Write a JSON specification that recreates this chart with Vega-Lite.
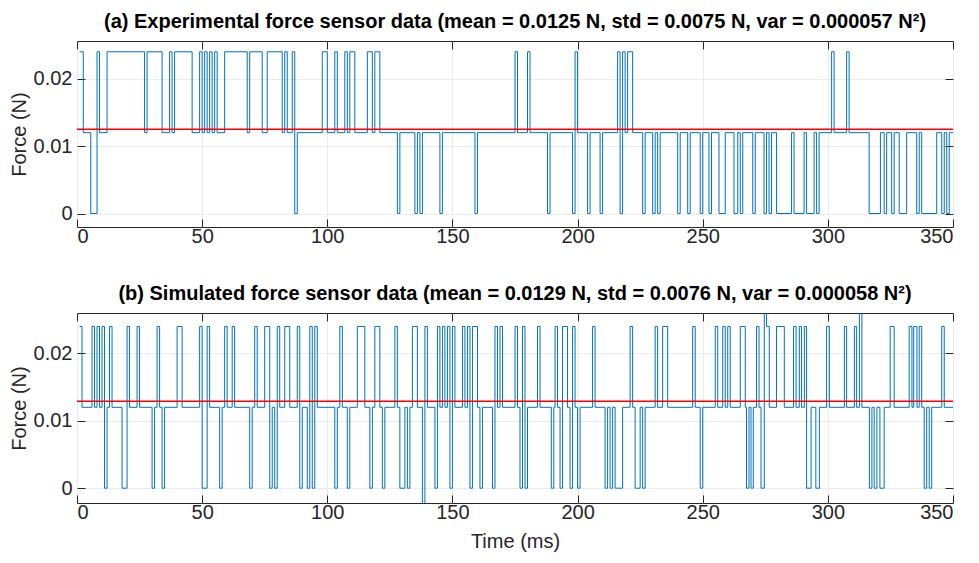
{
"$schema": "https://vega.github.io/schema/vega-lite/v6.json",
"background": "white",
"padding": {"left": 8, "top": 11, "right": 5, "bottom": 5},
"spacing": 36,
"config": {
  "font": "Liberation Sans",
  "view": {"stroke": "#262626", "strokeWidth": 1},
  "axis": {"labelFont": "Liberation Sans", "labelFontSize": 20, "labelColor": "#262626", "titleFont": "Liberation Sans", "titleFontSize": 20, "titleFontWeight": "normal", "titleColor": "#262626", "gridColor": "#ebebeb", "domain": false, "tickColor": "#262626", "tickSize": -8},
  "title": {"font": "Liberation Sans", "fontSize": 20, "fontWeight": "bold", "color": "#000000", "offset": 9}
},
"datasets": {
"a": [{"t":1,"f":0.024},{"t":2.5,"f":0.012},{"t":5.5,"f":0},{"t":8,"f":0.024},{"t":9,"f":0.012},{"t":12,"f":0.024},{"t":27,"f":0.012},{"t":28,"f":0.024},{"t":34,"f":0.012},{"t":37,"f":0.024},{"t":38,"f":0.012},{"t":39,"f":0.024},{"t":46,"f":0.012},{"t":49,"f":0.024},{"t":50,"f":0.012},{"t":51,"f":0.024},{"t":52,"f":0.012},{"t":53,"f":0.024},{"t":54,"f":0.012},{"t":55,"f":0.024},{"t":56,"f":0.012},{"t":59,"f":0.024},{"t":68,"f":0.012},{"t":69,"f":0.024},{"t":74,"f":0.012},{"t":76,"f":0.024},{"t":82,"f":0.012},{"t":83,"f":0.024},{"t":84,"f":0.012},{"t":86,"f":0.024},{"t":87,"f":0},{"t":88,"f":0.012},{"t":98,"f":0.024},{"t":100,"f":0.012},{"t":103,"f":0.024},{"t":104,"f":0.012},{"t":107,"f":0.024},{"t":108,"f":0.012},{"t":109,"f":0.024},{"t":111,"f":0.012},{"t":116,"f":0.024},{"t":118,"f":0.012},{"t":119,"f":0.024},{"t":121,"f":0.012},{"t":128,"f":0},{"t":129,"f":0.012},{"t":135,"f":0},{"t":136,"f":0.012},{"t":137,"f":0},{"t":138,"f":0.012},{"t":145,"f":0},{"t":146,"f":0.012},{"t":159,"f":0},{"t":160,"f":0.012},{"t":175,"f":0.024},{"t":176,"f":0.012},{"t":180,"f":0.024},{"t":181,"f":0.012},{"t":188,"f":0},{"t":189,"f":0.012},{"t":198,"f":0},{"t":199,"f":0.024},{"t":200,"f":0.012},{"t":204,"f":0},{"t":205,"f":0.012},{"t":209,"f":0},{"t":210,"f":0.012},{"t":216,"f":0.024},{"t":217,"f":0},{"t":218,"f":0.024},{"t":219,"f":0.012},{"t":220,"f":0.024},{"t":222,"f":0.012},{"t":226,"f":0},{"t":227,"f":0.012},{"t":230,"f":0},{"t":231,"f":0.012},{"t":232,"f":0},{"t":233,"f":0.012},{"t":240,"f":0},{"t":241,"f":0.012},{"t":244,"f":0},{"t":245,"f":0.012},{"t":249,"f":0},{"t":250,"f":0.012},{"t":252.5,"f":0},{"t":253.5,"f":0.012},{"t":256.5,"f":0},{"t":259,"f":0.012},{"t":262.5,"f":0},{"t":264,"f":0.012},{"t":265,"f":0},{"t":266,"f":0.012},{"t":270,"f":0},{"t":271,"f":0.012},{"t":274.5,"f":0},{"t":275.5,"f":0.012},{"t":276.5,"f":0},{"t":277.5,"f":0.012},{"t":279.5,"f":0},{"t":285.5,"f":0.012},{"t":286.5,"f":0},{"t":290.5,"f":0.012},{"t":291.5,"f":0},{"t":294.5,"f":0.012},{"t":295.5,"f":0},{"t":296.5,"f":0.012},{"t":301.5,"f":0.024},{"t":302.5,"f":0.012},{"t":307.5,"f":0.024},{"t":308.5,"f":0.012},{"t":316.5,"f":0},{"t":321,"f":0.012},{"t":322.5,"f":0},{"t":323.5,"f":0.012},{"t":325.5,"f":0},{"t":326.5,"f":0.012},{"t":328.5,"f":0},{"t":331.5,"f":0.012},{"t":335.5,"f":0},{"t":336.5,"f":0.012},{"t":337.5,"f":0},{"t":343.5,"f":0.012},{"t":345.5,"f":0},{"t":346.5,"f":0.012},{"t":347.5,"f":0},{"t":348.5,"f":0.012},{"t":350,"f":0.012}],
"b": [{"t":1,"f":0.024},{"t":2,"f":0.012},{"t":6,"f":0.024},{"t":7,"f":0.012},{"t":8,"f":0.024},{"t":9,"f":0.012},{"t":10,"f":0.024},{"t":11,"f":0},{"t":12,"f":0.012},{"t":13,"f":0.024},{"t":14,"f":0.012},{"t":18,"f":0},{"t":20,"f":0.024},{"t":21,"f":0.012},{"t":24,"f":0.024},{"t":25,"f":0.012},{"t":30,"f":0},{"t":31,"f":0.012},{"t":32,"f":0.024},{"t":33,"f":0.012},{"t":34,"f":0},{"t":35,"f":0.012},{"t":40,"f":0.024},{"t":42,"f":0.012},{"t":49,"f":0.024},{"t":50,"f":0},{"t":52,"f":0.024},{"t":53,"f":0.012},{"t":57,"f":0},{"t":58,"f":0.012},{"t":59,"f":0.024},{"t":60,"f":0.012},{"t":62,"f":0.024},{"t":63,"f":0.012},{"t":69,"f":0},{"t":70,"f":0.012},{"t":71,"f":0.024},{"t":72,"f":0.012},{"t":75,"f":0.024},{"t":77,"f":0},{"t":78,"f":0.012},{"t":79,"f":0},{"t":80,"f":0.024},{"t":81,"f":0.012},{"t":83,"f":0.024},{"t":85,"f":0.012},{"t":88,"f":0.024},{"t":89,"f":0},{"t":90,"f":0.012},{"t":92,"f":0},{"t":93,"f":0.024},{"t":94,"f":0},{"t":95,"f":0.024},{"t":96,"f":0.012},{"t":103,"f":0},{"t":104,"f":0.012},{"t":105,"f":0.024},{"t":106,"f":0.012},{"t":108,"f":0},{"t":109,"f":0.012},{"t":112,"f":0.024},{"t":115,"f":0.012},{"t":117,"f":0},{"t":118,"f":0.012},{"t":119,"f":0.024},{"t":121,"f":0.012},{"t":122,"f":0},{"t":123,"f":0.012},{"t":127,"f":0.024},{"t":128,"f":0.012},{"t":129,"f":0},{"t":131,"f":0.012},{"t":132,"f":0},{"t":133,"f":0.012},{"t":134,"f":0.024},{"t":136,"f":0.012},{"t":138,"f":-0.012},{"t":139,"f":0.024},{"t":140,"f":0.012},{"t":143,"f":0},{"t":144,"f":0.024},{"t":145,"f":0.012},{"t":146,"f":0.024},{"t":147,"f":0.012},{"t":148,"f":0.024},{"t":149,"f":0},{"t":150,"f":0.024},{"t":151,"f":0.012},{"t":154,"f":0.024},{"t":155,"f":0.012},{"t":156,"f":0.024},{"t":157,"f":0},{"t":158,"f":0.024},{"t":160,"f":0.012},{"t":161,"f":0},{"t":162,"f":0.012},{"t":166,"f":0},{"t":167,"f":0.024},{"t":168,"f":0.012},{"t":169,"f":0.024},{"t":170,"f":0.012},{"t":175,"f":0.024},{"t":176,"f":0.012},{"t":177,"f":0},{"t":178,"f":0.024},{"t":179,"f":0},{"t":180,"f":0.012},{"t":184,"f":0.024},{"t":185,"f":0.012},{"t":189.5,"f":0},{"t":190.5,"f":0.012},{"t":191,"f":0.024},{"t":192,"f":0.012},{"t":193,"f":0},{"t":194,"f":0.024},{"t":196,"f":0.012},{"t":197,"f":0},{"t":198,"f":0.024},{"t":199,"f":0.012},{"t":200,"f":0},{"t":201,"f":0.012},{"t":206,"f":0.024},{"t":207,"f":0.012},{"t":211,"f":0},{"t":212,"f":0.012},{"t":213,"f":0},{"t":214,"f":0.012},{"t":215,"f":0},{"t":218,"f":0.012},{"t":221,"f":0.024},{"t":222,"f":0.012},{"t":223,"f":0},{"t":225,"f":0.012},{"t":226,"f":0},{"t":227,"f":0.012},{"t":231,"f":0.024},{"t":232,"f":0.012},{"t":234,"f":0.024},{"t":236,"f":0.012},{"t":246,"f":0.024},{"t":247,"f":0.012},{"t":249,"f":0},{"t":250,"f":0.012},{"t":255,"f":0.024},{"t":256,"f":0.012},{"t":258,"f":0.024},{"t":259,"f":0.012},{"t":260,"f":0.024},{"t":261,"f":0.012},{"t":265,"f":0.024},{"t":267,"f":0.012},{"t":267.5,"f":0},{"t":268.5,"f":0.012},{"t":269.3,"f":0},{"t":270.2,"f":0.012},{"t":271.5,"f":0.024},{"t":272.5,"f":0.012},{"t":273.3,"f":0},{"t":274.6,"f":0.036},{"t":275.5,"f":0.024},{"t":276.6,"f":0.012},{"t":279.5,"f":0.024},{"t":282.6,"f":0.012},{"t":286.3,"f":0.024},{"t":287.3,"f":0.012},{"t":288.6,"f":0.024},{"t":289.5,"f":0.012},{"t":290.6,"f":0.024},{"t":291.5,"f":0},{"t":293.3,"f":0.012},{"t":295.2,"f":0},{"t":296.6,"f":0.012},{"t":299.5,"f":0.024},{"t":300.6,"f":0.012},{"t":306.6,"f":0.024},{"t":307.5,"f":0.012},{"t":310.6,"f":0.024},{"t":311.5,"f":0.012},{"t":312.6,"f":0.036},{"t":313.6,"f":0.012},{"t":316.6,"f":0},{"t":317.6,"f":0.012},{"t":318.5,"f":0},{"t":319.6,"f":0.012},{"t":320.8,"f":0},{"t":322.5,"f":0.012},{"t":324.9,"f":0.024},{"t":326.5,"f":0.012},{"t":332.5,"f":0.024},{"t":333.6,"f":0.012},{"t":334.3,"f":0.024},{"t":335.6,"f":0.012},{"t":336.5,"f":0.024},{"t":337.5,"f":0.012},{"t":338.5,"f":0},{"t":339.5,"f":0.012},{"t":340.5,"f":0},{"t":341.5,"f":0.012},{"t":345.5,"f":0.024},{"t":346.5,"f":0.012},{"t":350,"f":0.012}],
"ma": [{"t":0,"f":0.0125},{"t":350,"f":0.0125}],
"mb": [{"t":0,"f":0.0129},{"t":350,"f":0.0129}]
},
"vconcat": [
{
 "width": 876, "height": 186,
 "title": {"text": "(a) Experimental force sensor data (mean = 0.0125 N, std = 0.0075 N, var = 0.000057 N²)"},
 "layer": [
  {"data": {"name": "a"},
   "mark": {"type": "line", "interpolate": "step-after", "color": "#0072BD", "strokeWidth": 1, "clip": true},
   "encoding": {
    "x": {"field": "t", "type": "quantitative", "scale": {"domain": [0, 350], "nice": false}, "axis": {"values": [0,50,100,150,200,250,300,350], "title": null, "labelPadding": 7}},
    "y": {"field": "f", "type": "quantitative", "scale": {"domain": [-0.002, 0.0256], "nice": false, "zero": false}, "axis": {"values": [0, 0.01, 0.02], "format": ".2~f", "title": "Force (N)", "labelPadding": 13, "titlePadding": 4}}
   }},
  {"data": {"name": "ma"},
   "mark": {"type": "line", "color": "#FF0000", "strokeWidth": 1.5, "clip": true},
   "encoding": {
    "x": {"field": "t", "type": "quantitative", "axis": {"orient": "top", "values": [0,50,100,150,200,250,300,350], "labels": false, "grid": false, "title": null}},
    "y": {"field": "f", "type": "quantitative", "axis": {"orient": "right", "values": [0, 0.01, 0.02], "labels": false, "grid": false, "title": null}}
   }}
 ],
 "resolve": {"axis": {"x": "independent", "y": "independent"}}
},
{
 "width": 876, "height": 190,
 "title": {"text": "(b) Simulated force sensor data (mean = 0.0129 N, std = 0.0076 N, var = 0.000058 N²)"},
 "layer": [
  {"data": {"name": "b"},
   "mark": {"type": "line", "interpolate": "step-after", "color": "#0072BD", "strokeWidth": 1, "clip": true},
   "encoding": {
    "x": {"field": "t", "type": "quantitative", "scale": {"domain": [0, 350], "nice": false}, "axis": {"values": [0,50,100,150,200,250,300,350], "title": "Time (ms)", "labelPadding": 7, "titlePadding": 9}},
    "y": {"field": "f", "type": "quantitative", "scale": {"domain": [-0.0022, 0.026], "nice": false, "zero": false}, "axis": {"values": [0, 0.01, 0.02], "format": ".2~f", "title": "Force (N)", "labelPadding": 13, "titlePadding": 4}}
   }},
  {"data": {"name": "mb"},
   "mark": {"type": "line", "color": "#FF0000", "strokeWidth": 1.5, "clip": true},
   "encoding": {
    "x": {"field": "t", "type": "quantitative", "axis": {"orient": "top", "values": [0,50,100,150,200,250,300,350], "labels": false, "grid": false, "title": null}},
    "y": {"field": "f", "type": "quantitative", "axis": {"orient": "right", "values": [0, 0.01, 0.02], "labels": false, "grid": false, "title": null}}
   }}
 ],
 "resolve": {"axis": {"x": "independent", "y": "independent"}}
}
]
}
